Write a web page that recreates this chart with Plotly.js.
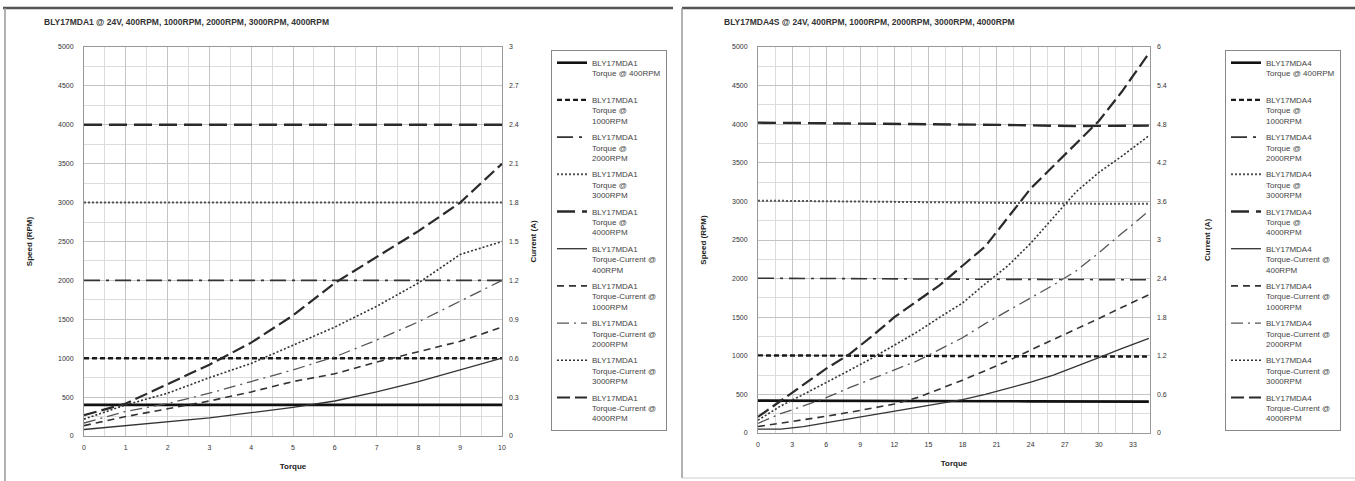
<!DOCTYPE html>
<html>
<head>
<meta charset="utf-8">
<script src="https://cdn.plot.ly/plotly-3.0.1.min.js"></script>
<style>
html,body{margin:0;padding:0;background:#fff;}
#chart{width:1355px;height:481px;}
</style>
</head>
<body>
<div id="chart"></div>
<script>
// ---------- Left chart: BLY17MDA1 ----------
const leftTitle = 'BLY17MDA1 @ 24V, 400RPM, 1000RPM, 2000RPM, 3000RPM, 4000RPM';
const leftModel = 'BLY17MDA1';
const leftTorque = [0, 1, 2, 3, 4, 5, 6, 7, 8, 9, 10];
const leftSpeed400  = [400, 400, 400, 400, 400, 400, 400, 400, 400, 400, 400];
const leftSpeed1000 = [1000, 1000, 1000, 1000, 1000, 1000, 1000, 1000, 1000, 1000, 1000];
const leftSpeed2000 = [2000, 2000, 2000, 2000, 2000, 2000, 2000, 2000, 2000, 2000, 2000];
const leftSpeed3000 = [3000, 3000, 3000, 3000, 3000, 3000, 3000, 3000, 3000, 3000, 3000];
const leftSpeed4000 = [4000, 4000, 4000, 4000, 4000, 4000, 4000, 4000, 4000, 4000, 4000];
const leftCurrent400  = [0.05, 0.08, 0.11, 0.14, 0.18, 0.22, 0.27, 0.34, 0.42, 0.51, 0.60];
const leftCurrent1000 = [0.08, 0.15, 0.21, 0.27, 0.34, 0.42, 0.48, 0.57, 0.65, 0.73, 0.84];
const leftCurrent2000 = [0.10, 0.19, 0.25, 0.33, 0.42, 0.51, 0.61, 0.74, 0.88, 1.04, 1.20];
const leftCurrent3000 = [0.13, 0.24, 0.33, 0.45, 0.56, 0.70, 0.84, 1.00, 1.18, 1.40, 1.50];
const leftCurrent4000 = [0.16, 0.25, 0.40, 0.55, 0.72, 0.93, 1.18, 1.38, 1.58, 1.80, 2.10];

// ---------- Right chart: BLY17MDA4S ----------
const rightTitle = 'BLY17MDA4S @ 24V, 400RPM, 1000RPM, 2000RPM, 3000RPM, 4000RPM';
const rightModel = 'BLY17MDA4';
const rightTorque = [0, 2, 4, 6, 8, 10, 12, 14, 16, 18, 20, 22, 24, 26, 28, 30, 32, 34.4];
const rightSpeed400  = [420, 420, 418, 418, 416, 415, 415, 414, 413, 412, 412, 411, 410, 410, 409, 408, 408, 407];
const rightSpeed1000 = [1005, 1004, 1003, 1002, 1000, 1000, 998, 998, 997, 996, 995, 995, 994, 993, 992, 992, 991, 990];
const rightSpeed2000 = [2005, 2003, 2000, 2000, 1998, 1998, 1996, 1995, 1995, 1993, 1992, 1990, 1990, 1988, 1988, 1986, 1985, 1985];
const rightSpeed3000 = [3010, 3008, 3005, 3000, 2998, 2995, 2990, 2988, 2985, 2985, 2982, 2980, 2978, 2975, 2972, 2970, 2970, 2968];
const rightSpeed4000 = [4020, 4018, 4015, 4012, 4010, 4008, 4005, 4002, 4000, 3998, 3995, 3990, 3985, 3978, 3975, 3978, 3980, 3982];
const rightCurrent400  = [0.06, 0.06, 0.10, 0.16, 0.22, 0.28, 0.34, 0.40, 0.46, 0.52, 0.60, 0.69, 0.79, 0.90, 1.03, 1.17, 1.31, 1.47];
const rightCurrent1000 = [0.10, 0.15, 0.20, 0.26, 0.32, 0.38, 0.45, 0.55, 0.68, 0.82, 0.97, 1.12, 1.29, 1.45, 1.61, 1.78, 1.95, 2.15];
const rightCurrent2000 = [0.15, 0.30, 0.42, 0.55, 0.70, 0.84, 0.98, 1.12, 1.30, 1.48, 1.70, 1.90, 2.10, 2.30, 2.52, 2.80, 3.10, 3.45];
const rightCurrent3000 = [0.20, 0.42, 0.60, 0.78, 0.97, 1.16, 1.36, 1.57, 1.80, 2.02, 2.32, 2.60, 2.95, 3.35, 3.75, 4.05, 4.30, 4.62];
const rightCurrent4000 = [0.25, 0.50, 0.75, 1.00, 1.22, 1.50, 1.80, 2.05, 2.30, 2.60, 2.90, 3.35, 3.80, 4.15, 4.50, 4.85, 5.30, 5.90];

const rpmLabels = ['400RPM', '1000RPM', '2000RPM', '3000RPM', '4000RPM'];

// ---------- styles ----------
const FONT = 'Liberation Sans, Arial, sans-serif';
const speedStyles = [
  {color: '#111', width: 2.6, dash: 'solid'},
  {color: '#1a1a1a', width: 2.4, dash: '5px,3px'},
  {color: '#333', width: 1.6, dash: '16px,6px,3px,6px'},
  {color: '#555', width: 2.0, dash: '2px,2px'},
  {color: '#2a2a2a', width: 2.4, dash: '18px,7px'}
];
const currentStyles = [
  {color: '#333', width: 1.3, dash: 'solid'},
  {color: '#333', width: 1.6, dash: '7px,5px'},
  {color: '#555', width: 1.3, dash: '12px,5px,2px,5px'},
  {color: '#333', width: 1.6, dash: '2px,2px'},
  {color: '#2a2a2a', width: 2.2, dash: '13px,5px'}
];

function buildTraces(model, torque, speeds, currents, xa, ya, ya2, legendId, prefix) {
  const out = [];
  speeds.forEach((s, i) => {
    const nm = i === 0
      ? model + '<br>Torque @ ' + rpmLabels[i] + '<br> '
      : model + '<br>Torque @<br>' + rpmLabels[i];
    out.push({x: torque, y: s, xaxis: xa, yaxis: ya, type: 'scatter', mode: 'lines',
      name: nm, line: speedStyles[i], legend: legendId, legendgroup: prefix + 's' + i,
      hoverinfo: 'skip'});
  });
  currents.forEach((c, i) => {
    out.push({x: torque, y: c, xaxis: xa, yaxis: ya2, type: 'scatter', mode: 'lines',
      name: model + '<br>Torque-Current @<br>' + rpmLabels[i], line: currentStyles[i],
      legend: legendId, legendgroup: prefix + 'c' + i, hoverinfo: 'skip'});
  });
  return out;
}

const traces = [].concat(
  buildTraces(leftModel, leftTorque,
    [leftSpeed400, leftSpeed1000, leftSpeed2000, leftSpeed3000, leftSpeed4000],
    [leftCurrent400, leftCurrent1000, leftCurrent2000, leftCurrent3000, leftCurrent4000],
    'x', 'y', 'y2', 'legend', 'L'),
  buildTraces(rightModel, rightTorque,
    [rightSpeed400, rightSpeed1000, rightSpeed2000, rightSpeed3000, rightSpeed4000],
    [rightCurrent400, rightCurrent1000, rightCurrent2000, rightCurrent3000, rightCurrent4000],
    'x2', 'y3', 'y4', 'legend2', 'R')
);

const W = 1355, H = 481;
const px = v => v / W, py = v => 1 - v / H;

const tickFont = {family: FONT, size: 7, color: '#333'};
const titleFont = {family: FONT, size: 8, color: '#222', weight: 'bold'};
const grid = '#c4c4c4', minorGrid = '#dcdcdc';

function xAxis(domain, range, dtick, minorDtick, anchor) {
  return {domain, range, dtick, tick0: 0, anchor, showgrid: true, gridcolor: grid, gridwidth: 1,
    minor: {dtick: minorDtick, showgrid: true, gridcolor: minorGrid, ticks: ''},
    zeroline: false, showline: true, linecolor: '#999', mirror: true, ticks: '',
    tickfont: tickFont, ticklabelstandoff: 5,
    title: {text: 'Torque', font: titleFont, standoff: 12}};
}
function yAxis(domain, anchor) {
  return {domain, range: [0, 5000], dtick: 500, tick0: 0, tickformat: 'd', anchor,
    showgrid: true, gridcolor: grid, gridwidth: 1,
    minor: {dtick: 250, showgrid: true, gridcolor: minorGrid, ticks: ''},
    zeroline: false, showline: true, linecolor: '#999', mirror: true, ticks: '',
    tickfont: tickFont, ticklabelstandoff: 8,
    title: {text: 'Speed (RPM)', font: titleFont, standoff: 24}};
}
function y2Axis(overlay, anchor, max, dtick, standoff) {
  return {overlaying: overlay, side: 'right', anchor, range: [0, max], dtick, tick0: 0,
    showgrid: false, zeroline: false, showline: false, ticks: '',
    tickfont: tickFont, ticklabelstandoff: 6,
    title: {text: 'Current (A)', font: titleFont, standoff: standoff}};
}

const legendBase = {
  bgcolor: '#fff', bordercolor: '#888', borderwidth: 1,
  font: {family: FONT, size: 8, color: '#444'},
  xanchor: 'left', yanchor: 'top', valign: 'top', tracegroupgap: 3,
  itemclick: false, itemdoubleclick: false
};

const layout = {
  width: W, height: H,
  margin: {l: 0, r: 0, t: 0, b: 0},
  paper_bgcolor: '#fff', plot_bgcolor: '#fff',
  showlegend: true,
  xaxis: xAxis([px(84), px(502)], [0, 10], 1, 0.5, 'y'),
  yaxis: yAxis([1 - 436 / H, 1 - 47 / H], 'x'),
  yaxis2: y2Axis('y', 'x', 3, 0.3, 12),
  xaxis2: xAxis([px(758), px(1150)], [0, 34.5], 3, 1.5, 'y3'),
  yaxis3: yAxis([1 - 433 / H, 1 - 47 / H], 'x2'),
  yaxis4: y2Axis('y3', 'x2', 6, 0.6, 38),
  legend: Object.assign({}, legendBase, {x: px(551), y: py(50)}),
  legend2: Object.assign({}, legendBase, {x: px(1225), y: py(50)}),
  annotations: [
    {text: leftTitle, xref: 'paper', yref: 'paper', x: px(42), y: py(22), xanchor: 'left', yanchor: 'middle',
     showarrow: false, font: {family: FONT, size: 8.5, color: '#333', weight: 'bold'}},
    {text: rightTitle, xref: 'paper', yref: 'paper', x: px(722), y: py(22), xanchor: 'left', yanchor: 'middle',
     showarrow: false, font: {family: FONT, size: 8.5, color: '#333', weight: 'bold'}}
  ],
  shapes: [
    {type: 'line', xref: 'paper', yref: 'paper', x0: px(3), x1: px(673), y0: py(8), y1: py(8), line: {color: '#555', width: 2.5}},
    {type: 'line', xref: 'paper', yref: 'paper', x0: px(5), x1: px(5), y0: py(8), y1: 0, line: {color: '#999', width: 1.5}},
    {type: 'line', xref: 'paper', yref: 'paper', x0: px(682), x1: px(1355), y0: py(8), y1: py(8), line: {color: '#555', width: 2.5}},
    {type: 'line', xref: 'paper', yref: 'paper', x0: px(682), x1: px(682), y0: py(8), y1: py(478), line: {color: '#999', width: 1.5}},
    {type: 'line', xref: 'paper', yref: 'paper', x0: px(682), x1: px(1355), y0: py(478), y1: py(478), line: {color: '#ccc', width: 1}}
  ]
};

Plotly.newPlot('chart', traces, layout, {staticPlot: true, displayModeBar: false});
</script>
</body>
</html>
